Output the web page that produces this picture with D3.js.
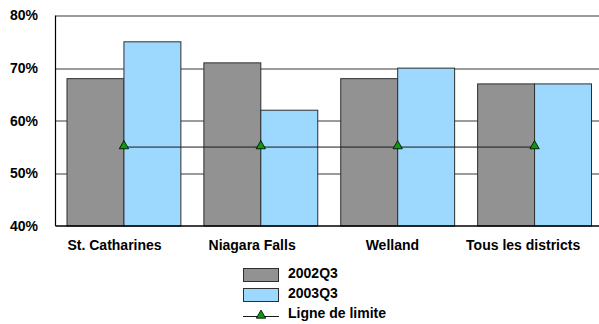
<!DOCTYPE html>
<html>
<head>
<meta charset="utf-8">
<script src="https://cdn.jsdelivr.net/npm/d3@7/dist/d3.min.js"></script>
<style>
  body { margin: 0; background: #fff; }
  svg { display: block; font-family: "Liberation Sans", Arial, sans-serif; font-weight: bold; }
</style>
</head>
<body>
<svg id="chart" width="599" height="324"></svg>
<script>
// Districts and their rates per quarter
const categories = ["St. Catharines", "Niagara Falls", "Welland", "Tous les districts"];
const series2002Q3 = [68, 71, 68, 67];
const series2003Q3 = [75, 62, 70, 67];
const limitValues = [55, 55, 55, 55];
const seriesNames = ["2002Q3", "2003Q3"];
const limitName = "Ligne de limite";
const yTicks = [40, 50, 60, 70, 80];

const colors = { "2002Q3": "#929292", "2003Q3": "#9dd8ff" };
const FONT = "Liberation Sans, Arial, sans-serif";

const svg = d3.select("#chart");
const margin = { left: 55.5, right: -4, top: 15.5, bottom: 98 };
const W = 599, H = 324;
const plotW = W - margin.left - margin.right;
const plotH = H - margin.top - margin.bottom;

const g = svg.append("g").attr("transform", `translate(${margin.left},${margin.top})`);

const x = d3.scaleBand().domain(categories).range([0, plotW]).paddingInner(0.168).paddingOuter(0.084);
const x1 = d3.scaleBand().domain(seriesNames).range([0, x.bandwidth()]);
const y = d3.scaleLinear().domain([40, 80]).range([plotH, 0]);

// gridlines
g.append("g").selectAll("line").data(yTicks.filter(t => t > 40)).join("line")
  .attr("x1", 0).attr("x2", plotW)
  .attr("y1", d => Math.round(y(d)) + 0.5).attr("y2", d => Math.round(y(d)) + 0.5)
  .attr("stroke", "#7a7a7a").attr("stroke-width", 1.3);

// bars
const data = categories.map((c, i) => ({ cat: c, vals: [
  { key: "2002Q3", v: series2002Q3[i] }, { key: "2003Q3", v: series2003Q3[i] }] }));

g.append("g").selectAll("g").data(data).join("g")
  .attr("transform", d => `translate(${x(d.cat)},0)`)
  .selectAll("rect").data(d => d.vals).join("rect")
  .attr("x", d => x1(d.key)).attr("width", x1.bandwidth())
  .attr("y", d => y(d.v)).attr("height", d => y(40) - y(d.v))
  .attr("fill", d => colors[d.key])
  .attr("stroke", "#2e2e2e").attr("stroke-width", 1);

// limit line
const cx = c => x(c) + x.bandwidth() / 2;
const lineGen = d3.line().x((d, i) => cx(categories[i])).y(d => y(d));
g.append("path").datum(limitValues).attr("d", lineGen)
  .attr("fill", "none").attr("stroke", "#1a1a1a").attr("stroke-width", 1);
const tri = d3.symbol().type(d3.symbolTriangle).size(38);
g.append("g").selectAll("path").data(limitValues).join("path")
  .attr("d", tri)
  .attr("transform", (d, i) => `translate(${cx(categories[i])},${y(d) - 1})`)
  .attr("fill", "#0a9a0a").attr("stroke", "#000").attr("stroke-width", 0.8);

// axes
g.append("line").attr("x1", 0).attr("x2", 0).attr("y1", 0).attr("y2", plotH)
  .attr("stroke", "#000").attr("stroke-width", 1.2);
g.append("line").attr("x1", 0).attr("x2", plotW).attr("y1", plotH).attr("y2", plotH)
  .attr("stroke", "#000").attr("stroke-width", 1.5);

const yAxis = d3.axisLeft(y).tickValues(yTicks).tickFormat(d => d + "%").tickSize(0).tickPadding(17.5);
const ya = g.append("g").call(yAxis);
ya.select(".domain").remove();
ya.selectAll("text").attr("font-size", 14).attr("font-weight", "bold").attr("fill", "#000")
  .attr("font-family", FONT);

const xAxis = d3.axisBottom(x).tickSize(0).tickPadding(0);
const xa = g.append("g").attr("transform", `translate(0,${plotH})`).call(xAxis);
xa.select(".domain").remove();
xa.selectAll("text").attr("font-size", 14).attr("font-weight", "bold").attr("fill", "#000")
  .attr("font-family", FONT).attr("y", 23.5).attr("dy", null)
  .attr("dx", function () { return -0.1 * this.getComputedTextLength(); });

// legend
const leg = svg.append("g").attr("transform", "translate(243,268)");
seriesNames.forEach((s, i) => {
  leg.append("rect").attr("x", 0.5).attr("y", i * 20 + 0.5).attr("width", 35).attr("height", 13)
    .attr("fill", colors[s]).attr("stroke", "#2e2e2e");
  leg.append("text").attr("x", 45).attr("y", i * 20 + 10.3)
    .attr("font-size", 14).text(s);
});
leg.append("line").attr("x1", 0).attr("x2", 36).attr("y1", 48.5).attr("y2", 48.5)
  .attr("stroke", "#1a1a1a");
leg.append("path").attr("d", tri).attr("transform", "translate(18,47.5)")
  .attr("fill", "#0a9a0a").attr("stroke", "#000").attr("stroke-width", 0.8);
leg.append("text").attr("x", 45).attr("y", 49.7)
  .attr("font-size", 14).text(limitName);
</script>
</body>
</html>
